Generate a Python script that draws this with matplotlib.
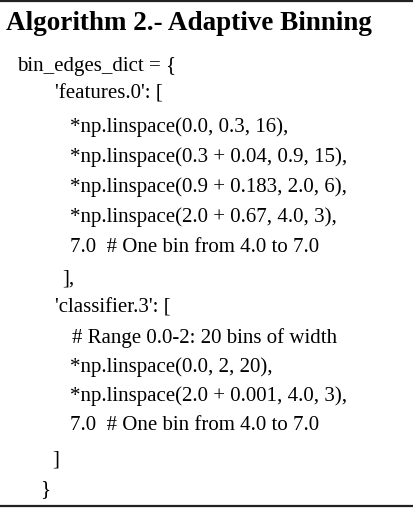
import matplotlib.pyplot as plt
from matplotlib.lines import Line2D

TITLE = 'Algorithm 2.- Adaptive Binning'
CODE_LINES = [
    (17, 67, 'bin_edges_dict = {'),
    (55, 94, "'features.0': ["),
    (70, 127, '*np.linspace(0.0, 0.3, 16),'),
    (70, 157, '*np.linspace(0.3 + 0.04, 0.9, 15),'),
    (70, 187, '*np.linspace(0.9 + 0.183, 2.0, 6),'),
    (70, 217, '*np.linspace(2.0 + 0.67, 4.0, 3),'),
    (70, 247, '7.0  # One bin from 4.0 to 7.0'),
    (62, 279, '],'),
    (55, 308, "'classifier.3': ["),
    (72, 338, '# Range 0.0-2: 20 bins of width'),
    (70, 367, '*np.linspace(0.0, 2, 20),'),
    (70, 396, '*np.linspace(2.0 + 0.001, 4.0, 3),'),
    (70, 425, '7.0  # One bin from 4.0 to 7.0'),
    (52, 460, ']'),
    (40, 490, '}'),
]

W, H = 414, 510
fig = plt.figure(figsize=(W / 100, H / 100), dpi=100)
serif = ['Liberation Serif', 'DejaVu Serif']

def px(x, y):
    return x / W, 1 - y / H

# top and bottom rules
for y in (1.5, 506.5):
    fig.add_artist(Line2D([0, 1], [1 - y / H] * 2, color='#222222', lw=1.6))

fig.text(*px(6, 23), TITLE, family=serif, fontsize=19.5, fontweight='bold',
         va='center', ha='left')

for x, y, s in CODE_LINES:
    fig.text(*px(x, y), s, family=serif, fontsize=15, va='center', ha='left')

fig.savefig('out.png', dpi=100)
